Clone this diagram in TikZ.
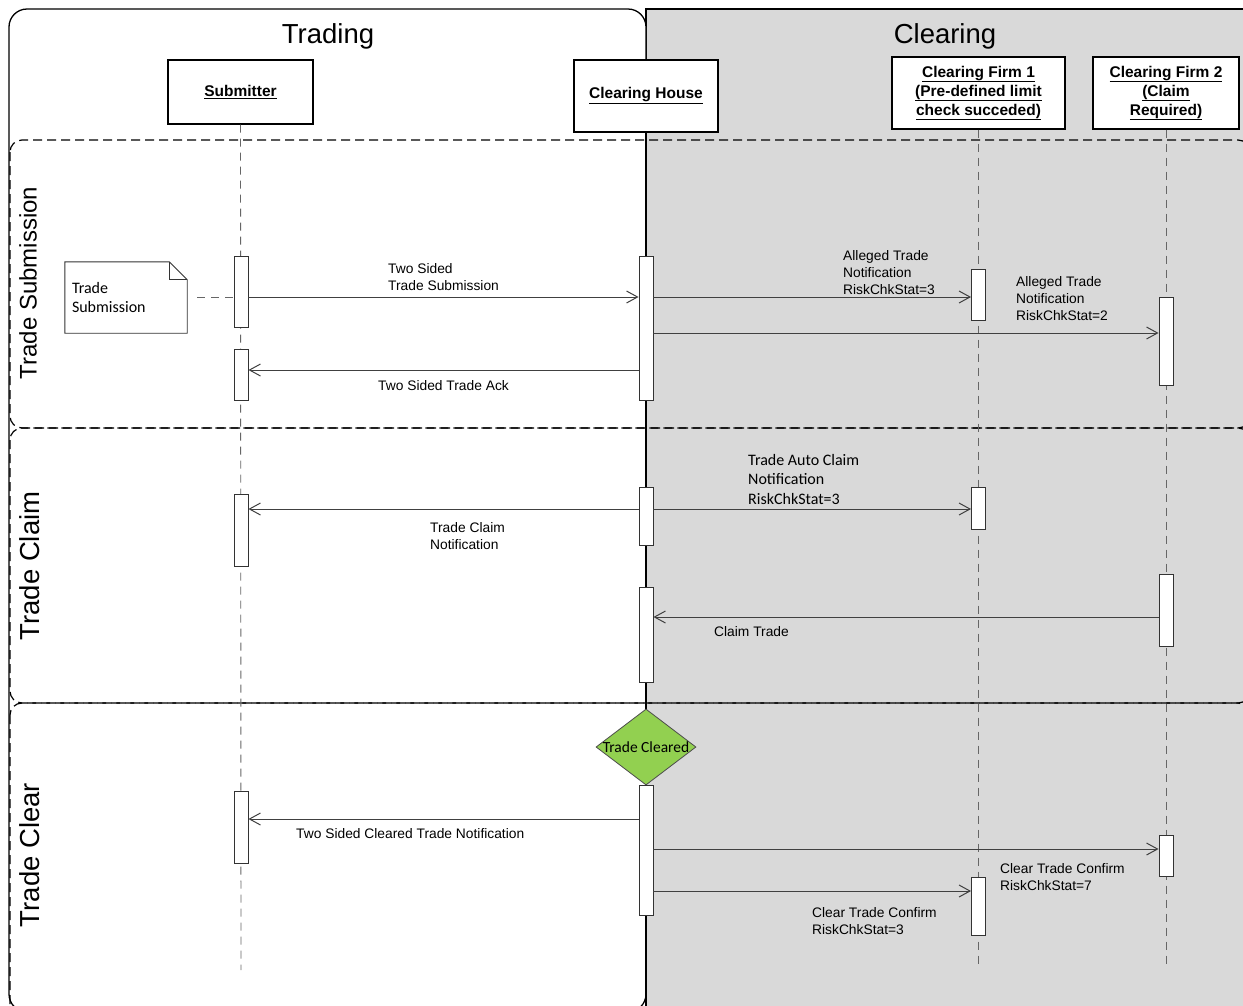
\documentclass[tikz,border=0pt]{standalone}
\usepackage{fontspec}
\setmainfont{Liberation Sans}
\newfontfamily\calibrifont{Carlito}
\usepackage{tikz}
\usetikzlibrary{positioning,shapes.geometric,arrows.meta}
\usepackage{xcolor}
\definecolor{clearingbg}{RGB}{217,217,217}
\definecolor{clearedgreen}{RGB}{146,208,80}
\definecolor{msgline}{RGB}{64,64,64}

\begin{document}
\begin{tikzpicture}
[
    x=1pt,y=-1pt,
    region/.style={inner sep=0pt,font=\fontsize{27.5}{30}\selectfont},
    lane/.style={draw=black,dash pattern=on 9pt off 5pt,line width=1.2pt,rounded corners=12pt},
    lanetitle/.style={rotate=90,inner sep=0pt,font=\fontsize{27.5}{30}\selectfont},
    actor/.style={rectangle,draw=black,fill=white,line width=1.2pt,align=center,inner sep=0pt,font=\fontsize{15.5}{19}\selectfont\bfseries},
    lifeline/.style={draw=black!60,dash pattern=on 8pt off 6pt,line width=0.9pt},
    activation/.style={rectangle,draw=black!80,fill=white,line width=0.9pt,minimum width=14pt,inner sep=0pt},
    msg/.style={draw=msgline,line width=1pt,-{Straight Barb[length=11pt,width=12pt]}},
    msgtext/.style={anchor=north west,align=left,inner sep=0pt,font=\fontsize{13.8}{17.3}\selectfont},
    msgtextc/.style={anchor=north west,align=left,inner sep=0pt,font=\calibrifont\fontsize{16}{19.5}\selectfont},
    notebox/.style={draw=black!80,line width=0.9pt},
    decision/.style={diamond,draw=black!70,fill=clearedgreen,line width=0.8pt,minimum width=100pt,minimum height=76pt,inner sep=0pt}
]
\useasboundingbox (0,0) rectangle (1243,1005);
\clip (0,0) rectangle (1243,1005);

% swimlanes Trading / Clearing
\draw[fill=clearingbg,line width=1.2pt] (646,9) rectangle (1270,1030);
\draw[fill=white,line width=1.3pt,rounded corners=18pt] (9,9) rectangle (646,1012);
\node (trading) at (328,36) [region] {Trading};
\node (clearing) at (945,36) [region] {Clearing};

\draw[lane] (10,140) rectangle (1250,428);
\draw[lane] (10,428) rectangle (1250,703);
\draw[lane] (10,703) rectangle (1250,1030);
\node (phase1) at (28,283) [lanetitle,font=\fontsize{24}{26}\selectfont] {Trade Submission};
\node (phase2) at (30,566) [lanetitle] {Trade Claim};
\node (phase3) at (30,855) [lanetitle] {Trade Clear};

\node (submitter) at (240.5,92) [actor,minimum width=145pt,minimum height=64pt] {\underline{Submitter}};
\node (house) at (646,96) [actor,minimum width=144pt,minimum height=72pt] {\underline{Clearing House}};
\node (firm1) at (978.5,93) [actor,minimum width=173pt,minimum height=72pt] {\underline{Clearing Firm 1}\\\underline{(Pre-defined limit}\\\underline{check succeded)}};
\node (firm2) at (1166,93) [actor,minimum width=146pt,minimum height=72pt] {\underline{Clearing Firm 2}\\\underline{(Claim}\\\underline{Required)}};

\coordinate (submitterend) at (241,970);
\coordinate (houseend) at (646,1012);
\coordinate (firm1end) at (978.5,965);
\coordinate (firm2end) at (1166,965);
\draw[lifeline] (submitter.south) -- (submitterend);
\draw[lifeline] (firm1.south) -- (firm1end);
\draw[lifeline] (firm2.south) -- (firm2end);
\draw[black,line width=1.8pt] (house.south) -- (houseend);

\node (sub1) at (241,291.5) [activation,minimum height=71pt] {};
\node (sub2) at (241,374.5) [activation,minimum height=51pt] {};
\node (sub3) at (241,530) [activation,minimum height=72pt] {};
\node (sub4) at (241,827) [activation,minimum height=72pt] {};
\node (ch1) at (646,328) [activation,minimum height=144pt] {};
\node (ch2) at (646,516) [activation,minimum height=58pt] {};
\node (ch3) at (646,634.5) [activation,minimum height=95pt] {};
\node (ch4) at (646,850) [activation,minimum height=130pt] {};
\node (cfa1) at (978.5,294.5) [activation,minimum height=51pt] {};
\node (cfa2) at (978.5,508) [activation,minimum height=42pt] {};
\node (cfa3) at (978.5,906) [activation,minimum height=58pt] {};
\node (cfb1) at (1166,341) [activation,minimum height=88pt] {};
\node (cfb2) at (1166,610) [activation,minimum height=72pt] {};
\node (cfb3) at (1166,855.5) [activation,minimum height=41pt] {};

\node (cleared) at (646,747) [decision] {};
\node (clearedtext) at (cleared.center) [inner sep=0pt,font=\calibrifont\fontsize{15.5}{18}\selectfont] {Trade Cleared};

\node (note) at (126,297.5) [text width=108pt,inner xsep=7pt,inner ysep=0pt,minimum height=71pt,align=left,font=\calibrifont\fontsize{16}{19}\selectfont] {Trade\\Submission};
\draw[notebox] (note.north west) -- ([xshift=-18pt]note.north east) -- ([yshift=-18pt]note.north east) -- (note.south east) -- (note.south west) -- cycle;
\draw[notebox] ([xshift=-18pt]note.north east) -- ([xshift=-18pt,yshift=-18pt]note.north east) -- ([yshift=-18pt]note.north east);
\draw[lifeline] ([xshift=10pt]note.east) -- (sub1.west |- note.east);

% messages
\draw[msg] (sub1.east |- 0,297) -- (ch1.west |- 0,297);
\draw[msg] (ch1.east |- 0,297) -- (cfa1.west |- 0,297);
\draw[msg] (ch1.east |- 0,333) -- (cfb1.west |- 0,333);
\draw[msg] (ch1.west |- 0,370) -- (sub2.east |- 0,370);
\draw[msg] (ch2.east |- 0,509) -- (cfa2.west |- 0,509);
\draw[msg] (ch2.west |- 0,509) -- (sub3.east |- 0,509);
\draw[msg] (cfb2.west |- 0,617) -- (ch3.east |- 0,617);
\draw[msg] (ch4.west |- 0,819) -- (sub4.east |- 0,819);
\draw[msg] (ch4.east |- 0,849) -- (cfb3.west |- 0,849);
\draw[msg] (ch4.east |- 0,891) -- (cfa3.west |- 0,891);

\node (m1) at (388,263) [msgtext] {Two Sided\\Trade Submission};
\node (m2) at (843,250) [msgtext] {Alleged Trade\\Notification\\RiskChkStat=3};
\node (m3) at (1016,276) [msgtext] {Alleged Trade\\Notification\\RiskChkStat=2};
\node (m4) at (378,380) [msgtext] {Two Sided Trade Ack};
\node (m5) at (748,454) [msgtextc] {Trade Auto Claim\\Notification\\RiskChkStat=3};
\node (m6) at (430,522) [msgtext] {Trade Claim\\Notification};
\node (m7) at (714,626) [msgtext] {Claim Trade};
\node (m8) at (296,828) [msgtext] {Two Sided Cleared Trade Notification};
\node (m9) at (1000,863) [msgtext] {Clear Trade Confirm\\RiskChkStat=7};
\node (m10) at (812,907) [msgtext] {Clear Trade Confirm\\RiskChkStat=3};
\end{tikzpicture}
\end{document}
